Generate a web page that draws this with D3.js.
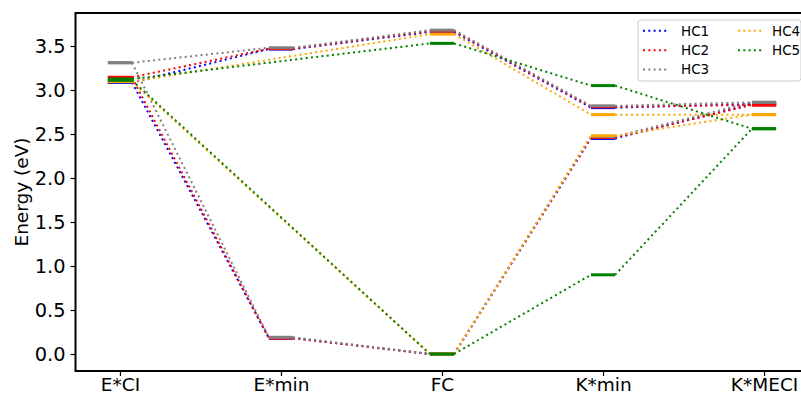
<!DOCTYPE html>
<html>
<head>
<meta charset="utf-8">
<script src="https://cdn.jsdelivr.net/npm/d3@7"></script>
<style>
  html, body { margin: 0; padding: 0; background: #fff; }
  svg { display: block; font-family: "DejaVu Sans", sans-serif; }
</style>
</head>
<body>
<svg id="chart" width="801" height="394"></svg>
<script>
// ---- data ----
const categories = ["E*CI", "E*min", "FC", "K*min", "K*MECI"];
const seriesNames = ["HC1", "HC2", "HC3", "HC4", "HC5"];
const seriesColors = ["#0000ff", "#ff0000", "#808080", "#ffa500", "#008000"];
// excited-state (upper) path energies, eV (null = not computed)
const hc1Upper = [3.085, 3.465, 3.66, 2.80, 2.84];
const hc2Upper = [3.145, 3.47, 3.67, 2.81, 2.83];
const hc3Upper = [3.31, 3.48, 3.68, 2.82, 2.86];
const hc4Upper = [3.095, null, 3.635, 2.72, 2.72];
const hc5Upper = [3.125, null, 3.53, 3.05, 2.56];
// ground-state (lower) path energies, eV
const hc1Lower = [3.085, 0.18, 0.00, 2.45, 2.84];
const hc2Lower = [3.14, 0.18, 0.00, 2.46, 2.83];
const hc3Lower = [3.31, 0.19, 0.00, 2.47, 2.86];
const hc4Lower = [3.095, null, 0.00, 2.48, 2.72];
const hc5Lower = [3.11, null, 0.00, 0.90, 2.56];
const yTicks = [0.0, 0.5, 1.0, 1.5, 2.0, 2.5, 3.0, 3.5];

const upperSets = [hc1Upper, hc2Upper, hc3Upper, hc4Upper, hc5Upper];
const lowerSets = [hc1Lower, hc2Lower, hc3Lower, hc4Lower, hc5Lower];

// ---- layout ----
const pL = 75.5, pR = 808.5, pT = 13, pB = 371;
const halfW = 0.075;

const svg = d3.select("#chart");
const x = d3.scaleLinear().domain([-0.276, 4.276]).range([pL, pR]);
const y = d3.scaleLinear().domain([-0.193, 3.875]).range([pB, pT]);

const plot = svg.append("g");

// ---- marks ----
seriesNames.forEach((name, si) => {
  const color = seriesColors[si];
  [upperSets[si], lowerSets[si]].forEach(vals => {
    const pts = vals.map((v, i) => ({i, v})).filter(d => d.v !== null);
    for (let k = 0; k < pts.length - 1; k++) {
      const a = pts[k], b = pts[k + 1];
      plot.append("line")
        .attr("x1", x(a.i + halfW)).attr("y1", y(a.v))
        .attr("x2", x(b.i - halfW)).attr("y2", y(b.v))
        .attr("stroke", color).attr("stroke-width", 2)
        .attr("stroke-dasharray", "2,3.3");
    }
  });
  [upperSets[si], lowerSets[si]].forEach(vals => {
    vals.forEach((v, i) => {
      if (v === null) return;
      plot.append("line")
        .attr("x1", x(i - halfW)).attr("x2", x(i + halfW))
        .attr("y1", y(v)).attr("y2", y(v))
        .attr("stroke", color).attr("stroke-width", 3);
    });
  });
});

// ---- axes ----
const yAxis = d3.axisLeft(y).tickValues(yTicks).tickFormat(d3.format(".1f")).tickSize(5).tickPadding(5);
const gy = svg.append("g").attr("transform", `translate(${pL},0)`).call(yAxis);
gy.select(".domain").remove();
gy.selectAll(".tick line").attr("stroke", "#000").attr("stroke-width", 1.2);
gy.selectAll(".tick text").attr("font-size", 19.4).attr("fill", "#000")
  .attr("font-family", "DejaVu Sans");

const xAxis = d3.axisBottom(x).tickValues(d3.range(categories.length))
  .tickFormat(i => categories[i]).tickSize(5).tickPadding(5);
const gx = svg.append("g").attr("transform", `translate(0,${pB})`).call(xAxis);
gx.select(".domain").remove();
gx.selectAll(".tick line").attr("stroke", "#000").attr("stroke-width", 1.2);
gx.selectAll(".tick text").attr("font-size", 18.5).attr("fill", "#000")
  .attr("font-family", "DejaVu Sans").attr("dy", "0.55em");

// spines
svg.append("rect").attr("x", pL).attr("y", pT)
  .attr("width", pR - pL).attr("height", pB - pT)
  .attr("fill", "none").attr("stroke", "#000").attr("stroke-width", 2);

// y label
svg.append("text")
  .attr("transform", `translate(28,${(pT + pB) / 2}) rotate(-90)`)
  .attr("text-anchor", "middle")
  .attr("font-size", 18.5)
  .attr("font-family", "DejaVu Sans")
  .text("Energy (eV)");

// ---- legend ----
const lg = svg.append("g");
lg.append("rect").attr("x", 638).attr("y", 20).attr("width", 163).attr("height", 61)
  .attr("rx", 3).attr("fill", "#fff").attr("fill-opacity", 0.8)
  .attr("stroke", "#cccccc").attr("stroke-width", 1);
const rowY = [30.7, 50.3, 69.5];
seriesNames.forEach((name, si) => {
  const col = si < 3 ? 0 : 1;
  const row = si < 3 ? si : si - 3;
  const hx = col === 0 ? 643 : 738;
  const tx = col === 0 ? 681 : 772;
  const yy = rowY[row];
  lg.append("line").attr("x1", hx).attr("x2", hx + 26).attr("y1", yy).attr("y2", yy)
    .attr("stroke", seriesColors[si]).attr("stroke-width", 2).attr("stroke-dasharray", "2,3.3");
  lg.append("text").attr("x", tx).attr("y", yy).attr("dy", "0.36em")
    .attr("font-size", 13.5).attr("font-family", "DejaVu Sans").text(name);
});
</script>
</body>
</html>
